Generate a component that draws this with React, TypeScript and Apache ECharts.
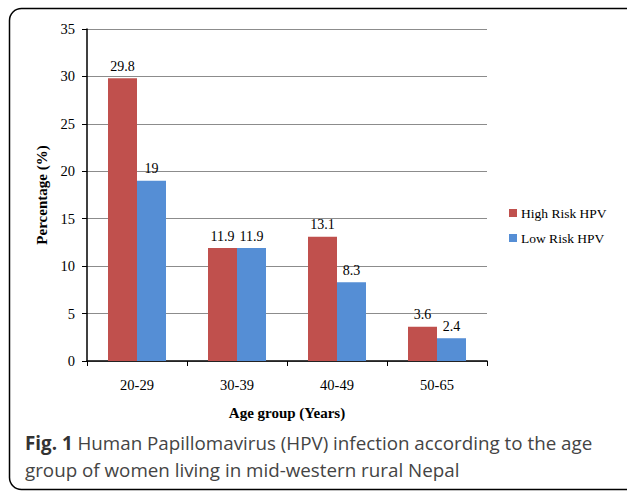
import React, { useEffect, useRef } from "react";
import * as echarts from "echarts";

const categories = ["20-29", "30-39", "40-49", "50-65"];
const highRisk = [29.8, 11.9, 13.1, 3.6];
const lowRisk = [19, 11.9, 8.3, 2.4];
const seriesNames = ["High Risk HPV", "Low Risk HPV"];

const SERIF = "'Liberation Serif', 'DejaVu Serif', serif";
const SANS = "'Open Sans', 'Noto Sans', sans-serif";

export default function App() {
  const ref = useRef<HTMLDivElement>(null);
  useEffect(() => {
    document.body.style.margin = "0";
    const chart = echarts.init(ref.current!, null, { renderer: "svg" });
    const labelStyle = {
      show: true,
      position: "top" as const,
      fontFamily: SERIF,
      fontSize: 14,
      color: "#000",
      distance: 5,
    };
    chart.setOption({
      animation: false,
      backgroundColor: "#fff",
      grid: { left: 87, right: 140, top: 29, bottom: 131 },
      legend: {
        orient: "vertical",
        left: 504,
        top: 201,
        itemWidth: 8,
        itemHeight: 8,
        itemGap: 11,
        icon: "rect",
        textStyle: { fontFamily: SERIF, fontSize: 13.5, color: "#000", padding: [0, 0, 0, -1] },
        data: seriesNames,
      },
      xAxis: {
        type: "category",
        data: categories,
        axisLine: { lineStyle: { color: "#000", width: 1.5 } },
        axisTick: { show: true, length: 5, lineStyle: { color: "#000" } },
        axisLabel: { fontFamily: SERIF, fontSize: 14.5, color: "#000", margin: 16 },
        name: "Age group (Years)",
        nameLocation: "middle",
        nameGap: 44,
        nameTextStyle: { fontFamily: SERIF, fontSize: 15, fontWeight: "bold", color: "#000" },
      },
      yAxis: {
        type: "value",
        min: 0,
        max: 35,
        interval: 5,
        axisLine: { show: true, lineStyle: { color: "#000", width: 1.5 } },
        axisTick: { show: true, length: 5, lineStyle: { color: "#000" } },
        axisLabel: { fontFamily: SERIF, fontSize: 14.5, color: "#000", margin: 12 },
        splitLine: { lineStyle: { color: "#8c8c8c", width: 1 } },
        name: "Percentage (%)",
        nameLocation: "middle",
        nameGap: 38,
        nameTextStyle: { fontFamily: SERIF, fontSize: 15, fontWeight: "bold", color: "#000" },
      },
      series: [
        {
          name: seriesNames[0],
          type: "bar",
          data: highRisk,
          barGap: "0%",
          barCategoryGap: "42%",
          itemStyle: { color: "#C0504D" },
          label: labelStyle,
        },
        {
          name: seriesNames[1],
          type: "bar",
          data: lowRisk,
          barGap: "0%",
          barCategoryGap: "42%",
          itemStyle: { color: "#558ED5" },
          label: labelStyle,
        },
      ],
      graphic: [
        {
          type: "rect",
          shape: { x: 9.5, y: 8.5, width: 640, height: 481, r: 12 },
          style: { fill: "none", stroke: "#000", lineWidth: 1.5 },
          silent: true,
        },
        {
          type: "text",
          left: 25,
          top: 433,
          style: {
            text: "{b|Fig. 1} Human Papillomavirus (HPV) infection according to the age",
            fontFamily: SANS,
            fontSize: 18.8,
            fill: "#444",
            rich: {
              b: { fontFamily: SANS, fontSize: 18.8, fontWeight: "bold", fill: "#333" },
            },
          },
        },
        {
          type: "text",
          left: 25,
          top: 460,
          style: {
            text: "group of women living in mid-western rural Nepal",
            fontFamily: SANS,
            fontSize: 18.8,
            fill: "#444",
          },
        },
      ],
    });
    return () => chart.dispose();
  }, []);
  return (
    <div
      ref={ref}
      style={{ position: "absolute", left: 0, top: 0, width: 627, height: 492 }}
    />
  );
}
